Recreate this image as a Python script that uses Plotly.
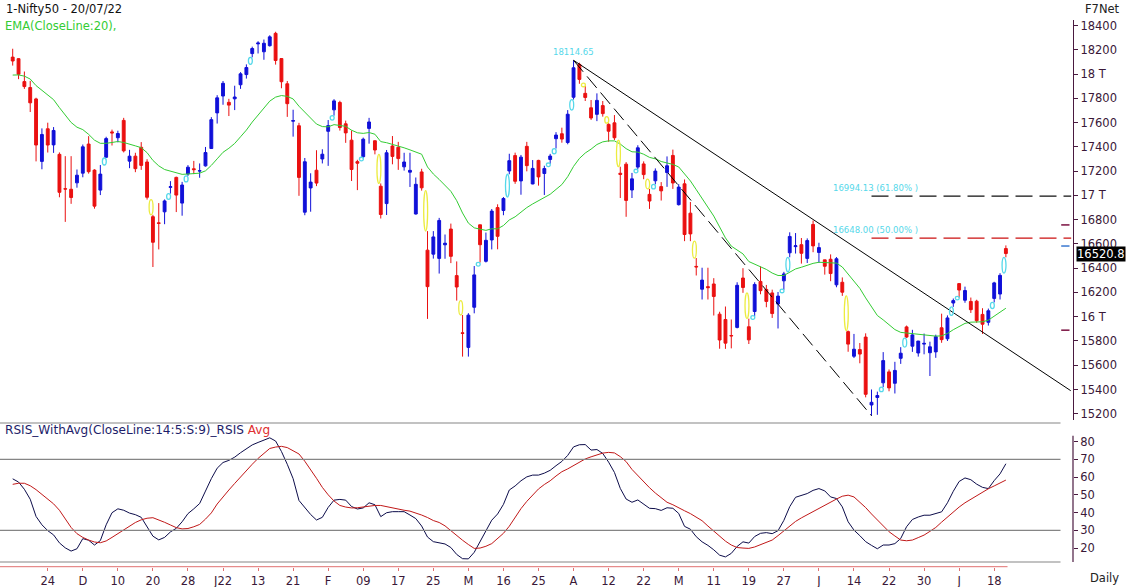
import plotly.graph_objects as go

# ---------------- data ----------------
tick_idx = [6, 12, 18, 24, 30, 36, 42, 48, 54, 60, 66, 72, 78, 84, 90, 96, 102, 108,
            114, 120, 126, 132, 138, 144, 150, 156, 162, 168]
tick_text = ["24", "D", "10", "20", "28", "J22", "13", "21", "F", "09", "17", "25", "M", "16",
             "25", "A", "12", "22", "M", "11", "19", "27", "J", "14", "22", "30", "J", "18"]

opens = [18141, 18128, 17939, 17890, 17796, 17281, 17550, 17417, 17339, 17055,
         17051, 17104, 17184, 17424, 17209, 17044, 17315, 17524, 17476, 17619,
         17283, 17324, 17397, 17276, 16825, 16774, 16865, 17067, 17149, 16937,
         17177, 17220, 17201, 17244, 17387, 17681, 17820, 17768, 17797, 17913,
         17997, 18170, 18250, 18185, 18235, 18337, 18129, 17921, 17613, 17575,
         16862, 17062, 17208, 17301, 17529, 17706, 17767, 17591, 17456, 17279,
         17320, 17553, 17451, 17076, 16933, 17408, 17397, 17236, 17192, 16847,
         17194, 16549, 16516, 16481, 16593, 16723, 16339, 15867, 15747, 16078,
         16758, 16457, 16633, 16900, 16876, 17202, 17329, 17120, 17405, 17095,
         17289, 17181, 17297, 17468, 17509, 17437, 17810, 18081, 17842, 17723,
         17669, 17741, 17586, 17599, 17183, 17258, 17045, 17234, 17260, 17009,
         17121, 17073, 17189, 17330, 16924, 17096, 16854, 16415, 16227, 16248,
         16270, 16021, 15977, 15845, 15912, 16319, 15917, 16043, 16291, 16225,
         16196, 16105, 16296, 16527, 16578, 16594, 16481, 16761, 16530, 16469,
         16474, 16263, 16284, 15877, 15674, 15729, 15832, 15272, 15334, 15455,
         15545, 15451, 15657, 15916, 15757, 15701, 15774, 15703, 15710, 15909,
         15818, 16113, 16273, 16136, 16126, 16128, 16019, 15954, 16151, 16187,
         16562]
highs = [18210, 18132, 18022, 17945, 17806, 17553, 17600, 17564, 17355, 17324,
         17324, 17214, 17420, 17489, 17216, 17251, 17484, 17543, 17534, 17640,
         17376, 17352, 17440, 17299, 16840, 16937, 16967, 17118, 17155, 17112,
         17250, 17285, 17264, 17400, 17646, 17827, 17944, 17797, 17905, 18017,
         18081, 18227, 18272, 18286, 18321, 18350, 18130, 17944, 17707, 17599,
         17309, 17183, 17373, 17381, 17622, 17794, 17781, 17617, 17536, 17294,
         17477, 17640, 17454, 17099, 17375, 17490, 17442, 17352, 17352, 17148,
         17220, 16706, 16706, 16815, 16678, 16768, 16456, 16014, 16029, 16418,
         16758, 16694, 16888, 16927, 16987, 17344, 17353, 17334, 17442, 17292,
         17294, 17245, 17343, 17522, 17559, 17704, 18114.65, 18095, 17902, 17787,
         17842, 17779, 17596, 17663, 17237, 17275, 17186, 17414, 17281, 17054,
         17223, 17110, 17322, 17378, 17093, 17132, 16946, 16484, 16404, 16404,
         16318, 16041, 16084, 15977, 16284, 16400, 15984, 16284, 16415, 16262,
         16223, 16204, 16370, 16696, 16690, 16649, 16646, 16793, 16610, 16469,
         16514, 16492, 16324, 15886, 15858, 15783, 15863, 15400, 15382, 15708,
         15565, 15628, 15749, 15927, 15892, 15801, 15861, 15794, 15852, 16025,
         16011, 16150, 16275, 16248, 16158, 16140, 16070, 16067, 16288, 16359,
         16588]
lows = [18071, 17959, 17879, 17688, 17281, 17216, 17354, 17351, 16985, 16782,
        16931, 17064, 17150, 17180, 16891, 17003, 17309, 17412, 17438, 17355,
        17225, 17192, 17211, 16966, 16410, 16555, 16763, 17015, 16863, 16833,
        17161, 17176, 17146, 17238, 17384, 17593, 17748, 17655, 17704, 17879,
        17964, 18139, 18171, 18119, 18228, 18079, 17884, 17648, 17485, 16997,
        16837, 16866, 17077, 17264, 17244, 17658, 17535, 17434, 17119, 17044,
        17306, 17427, 17339, 16810, 16839, 17257, 17211, 17205, 17070, 16843,
        17040, 15982, 16479, 16356, 16478, 16442, 16133, 15671, 15671, 16028,
        16447, 16447, 16555, 16556, 16837, 17175, 17096, 17006, 17199, 17092,
        17081, 17004, 17260, 17387, 17435, 17422, 17791, 17921, 17779, 17623,
        17613, 17650, 17443, 17457, 16979, 16824, 16979, 17216, 17134, 16889,
        17091, 16958, 17071, 17054, 16917, 16623, 16623, 16340, 16142, 16142,
        16010, 15736, 15735, 15739, 15904, 16197, 15775, 16003, 16185, 16078,
        15990, 15903, 16221, 16490, 16521, 16438, 16443, 16532, 16444, 16347,
        16293, 16243, 16172, 15711, 15659, 15616, 15335, 15183.4, 15191, 15419,
        15385, 15367, 15611, 15824, 15710, 15671, 15690, 15511, 15661, 15785,
        15800, 16081, 16157, 16115, 16031, 15950, 15858, 15927, 16118, 16142,
        16490]
closes = [18109, 17999, 17898, 17764, 17416, 17503, 17416, 17536, 17026, 17053,
          16983, 17167, 17401, 17196, 16912, 17176, 17469, 17516, 17511, 17368,
          17324, 17221, 17248, 16985, 16614, 16770, 16955, 17072, 17003, 17086,
          17233, 17213, 17204, 17354, 17625, 17805, 17925, 17745, 17812, 18003,
          18055, 18212, 18257, 18255, 18308, 18113, 17938, 17757, 17617, 17149,
          17278, 17110, 17102, 17340, 17576, 17780, 17560, 17516, 17214, 17266,
          17464, 17606, 17375, 16843, 17352, 17322, 17304, 17276, 17207, 17092,
          17063, 16248, 16658, 16794, 16606, 16498, 16245, 15863, 16013, 16345,
          16594, 16630, 16871, 16663, 16975, 17287, 17117, 17316, 17246, 17223,
          17153, 17222, 17325, 17498, 17465, 17670, 18053, 17957, 17808, 17639,
          17784, 17675, 17530, 17476, 17174, 16959, 17137, 17393, 17172, 16954,
          17201, 17038, 17245, 17103, 17069, 16678, 16683, 16411, 16302, 16240,
          16167, 15808, 15782, 15842, 16259, 16241, 15809, 16266, 16215, 16126,
          16026, 16170, 16353, 16662, 16585, 16523, 16628, 16584, 16570, 16416,
          16356, 16478, 16202, 15774, 15732, 15692, 15360, 15294, 15350, 15638,
          15413, 15557, 15699, 15832, 15850, 15799, 15780, 15752, 15835, 15811,
          15990, 16133, 16220, 16216, 16058, 15967, 15938, 16049, 16279, 16341,
          16521]
ema20 = [17993, 17994, 17984, 17960, 17906, 17866, 17823, 17790, 17724, 17663,
         17602, 17563, 17543, 17504, 17456, 17430, 17430, 17437, 17445, 17437,
         17425, 17409, 17394, 17353, 17289, 17244, 17214, 17200, 17185, 17174,
         17177, 17182, 17184, 17203, 17248, 17302, 17356, 17389, 17429, 17484,
         17539, 17605, 17665, 17720, 17778, 17811, 17824, 17817, 17796, 17736,
         17688, 17638, 17589, 17568, 17566, 17584, 17579, 17570, 17538, 17517,
         17512, 17519, 17505, 17444, 17435, 17422, 17408, 17393, 17376, 17360,
         17340, 17235, 17177, 17132, 17080, 17034, 16957, 16855, 16772, 16733,
         16722, 16712, 16725, 16725, 16752, 16798, 16824, 16866, 16900, 16930,
         16955, 16980, 17010, 17050, 17090, 17155, 17240, 17305, 17350, 17382,
         17420, 17442, 17450, 17450, 17424, 17386, 17360, 17358, 17340, 17314,
         17302, 17280, 17270, 17256, 17235, 17175, 17120, 17048, 16975, 16900,
         16830, 16740, 16650, 16582, 16550, 16518, 16455, 16435, 16414, 16390,
         16360, 16340, 16340, 16365, 16394, 16408, 16427, 16440, 16449, 16447,
         16441, 16442, 16410, 16352, 16295, 16234, 16155, 16078, 16010, 15974,
         15935, 15894, 15871, 15865, 15862, 15856, 15849, 15841, 15840, 15842,
         15862, 15893, 15920, 15945, 15955, 15956, 15958, 15972, 16003, 16034,
         16070]
rsi = [59.0, 57.2, 53.1, 47.5, 37.8, 33.1, 29.8, 27.4, 22.9, 20.1,
       18.3, 19.6, 25.3, 24.4, 21.7, 24.2, 33.1, 39.9, 42.1, 41.3,
       39.7, 38.8, 37.3, 31.7, 26.7, 24.6, 26.0, 29.1, 31.1, 34.8,
       39.4, 42.1, 45.1, 52.1, 59.1, 65.0, 68.2, 69.4, 71.2, 73.7,
       76.1, 78.1, 79.5, 80.8, 82.1, 80.3, 74.4, 67.2, 59.1, 46.8,
       42.7, 38.9, 35.8, 37.3, 42.9, 47.0, 47.4, 47.0, 43.4, 42.0,
       42.6, 45.5, 44.4, 37.7, 39.9, 40.5, 40.5, 40.5, 38.6, 36.6,
       32.4, 26.2, 23.6, 23.0, 22.3, 20.3, 16.4, 14.0, 13.9, 17.6,
       23.7, 29.2, 35.7, 39.2, 44.6, 52.7, 55.0, 57.9, 60.1, 61.1,
       61.1, 62.2, 63.8, 66.4, 68.8, 72.2, 77.0, 78.2, 78.3, 75.2,
       75.5, 73.3, 68.4, 62.6, 53.6, 47.6, 45.8, 47.1, 45.0, 42.4,
       42.2, 41.2, 42.7, 42.4, 39.5, 32.2, 30.6, 26.4, 23.5, 21.5,
       19.0, 16.0, 15.0, 17.0, 20.9, 23.5, 22.8, 26.5, 28.3, 28.7,
       28.1, 29.8, 35.6, 43.3, 48.6, 49.8, 50.7, 52.5, 53.5, 52.2,
       48.8, 47.9, 43.2, 34.8, 30.1, 27.0, 23.6, 21.5, 19.6, 21.7,
       21.7, 22.5, 25.4, 32.0, 36.1, 37.5, 38.5, 38.5, 39.5, 40.4,
       45.5, 52.0, 57.5, 59.5, 58.5, 56.0, 54.2, 53.5, 58.0, 61.8,
       67.5]
rsi_avg = [55.9, 56.5, 56.5, 55.1, 52.9, 50.2, 47.5, 44.9, 41.3, 36.8,
           31.6, 28.1, 26.0, 24.5, 23.4, 23.0, 24.0, 26.0, 28.1, 30.4,
           32.5, 34.4, 35.9, 36.8, 37.1, 36.0, 34.5, 33.0, 31.5, 30.8,
           31.0, 32.0, 33.3, 36.3, 39.8, 44.8, 49.1, 52.7, 56.4, 60.1,
           63.9, 67.2, 70.5, 73.4, 76.1, 76.9, 77.3, 76.6, 75.0, 73.0,
           68.9, 64.4, 59.3, 54.2, 50.0, 46.5, 44.0, 43.1, 42.6, 42.7,
           43.2, 43.7, 44.0, 44.0, 43.3, 42.5, 41.6, 41.3, 40.8, 39.8,
           38.6, 37.2, 35.5, 34.4, 32.5, 29.8, 27.0, 24.4, 22.0, 19.8,
           20.0, 21.0, 22.5, 25.2, 28.3, 32.3, 37.2, 42.2, 46.3, 49.9,
           53.3, 55.8, 57.9, 60.6, 63.0, 64.6, 66.4, 68.3, 70.2, 71.4,
           72.6, 73.5, 73.9, 73.6, 71.5, 68.7, 64.3, 60.8, 57.1, 54.0,
           51.0, 48.6, 45.8, 44.4, 42.9, 41.0, 39.4, 37.5, 35.4, 32.4,
           29.6, 27.0, 23.9, 21.7, 20.3, 20.0, 19.8, 20.6, 21.8, 23.1,
           24.5, 27.0, 29.7, 32.2, 35.0, 37.0, 38.8, 40.8, 42.5, 44.3,
           46.0, 47.6, 49.2, 49.8, 48.8, 46.0, 42.8, 39.2, 35.7, 32.5,
           29.2, 26.8, 24.5, 24.1, 24.5, 25.9, 27.3, 29.4, 31.6, 34.6,
           37.6, 40.2, 43.1, 45.5, 47.5, 49.7, 51.6, 53.4, 55.0, 56.6,
           58.3]

price_ticks = [15200, 15400, 15600, 15800, 16000, 16200, 16400, 16600, 16800,
               17000, 17200, 17400, 17600, 17800, 18000, 18200, 18400]
price_tick_text = ["15200", "15400", "15600", "15800", "16 T", "16200", "16400", "16600",
                   "16800", "17 T", "17200", "17400", "17600", "17800", "18 T", "18200", "18400"]
rsi_ticks = [20, 30, 40, 50, 60, 70, 80]
rsi_levels = [70, 30]

swing_high_idx, swing_high = 96, 18114.65
swing_low_idx, swing_low = 147, 15183.40
trend_solid_x = [96, 181.1]
trend_solid_y = [18114.65, 15390]
fib_levels = [16994.13, 16648.00]
fib_labels = ["16994.13 (61.80% )", "16648.00 (50.00% )"]
fib_colors = ["#111111", "#cc1111"]
pivot_marks = [16757, 16583, 15889]
pivot_colors = ["#7a1040", "#3a78d0", "#7a1040"]
last_close = 16520.8

# ---------------- geometry ----------------
W, H = 1126, 587
PLOT_R = 1073.5
X0_PX, STEP_PX = 12.7, 5.845
x_range = [-X0_PX / STEP_PX, (PLOT_R - X0_PX) / STEP_PX]
PRICE_REF, PRICE_REF_PY, PTS_PER_PX = 18400, 25.7, 8.247
price_top_px, price_bot_px = 20, 420
price_range = [PRICE_REF - (price_bot_px - PRICE_REF_PY) * PTS_PER_PX,
               PRICE_REF + (PRICE_REF_PY - price_top_px) * PTS_PER_PX]
R70_PY, PX_PER_UNIT = 459.3, 1.775
rsi_top_px, rsi_bot_px = 423, 566.7
rsi_range = [70 - (rsi_bot_px - R70_PY) / PX_PER_UNIT, 70 + (R70_PY - rsi_top_px) / PX_PER_UNIT]


def pxx(x):
    return x / PLOT_R


def pxy(y):
    return 1 - y / H


def idx_of(px):
    return (px - X0_PX) / STEP_PX


BLUE = "#1010d8"
RED = "#ea1010"
AXC = "#4a1a40"
FONT = "DejaVu Sans"
n = len(closes)
idx = list(range(n))

fig = go.Figure()
fig.add_trace(go.Candlestick(
    x=idx, open=opens, high=highs, low=lows, close=closes,
    increasing=dict(line=dict(color=BLUE, width=1), fillcolor=BLUE),
    decreasing=dict(line=dict(color=RED, width=1), fillcolor=RED),
    whiskerwidth=0, hoverinfo="skip", xaxis="x", yaxis="y"))
fig.add_trace(go.Scatter(x=idx, y=ema20, mode="lines", line=dict(color="#33cc33", width=1),
                         xaxis="x", yaxis="y", hoverinfo="skip"))
# trend lines
fig.add_trace(go.Scatter(x=trend_solid_x, y=trend_solid_y, mode="lines",
                         line=dict(color="#000000", width=1), xaxis="x", yaxis="y", hoverinfo="skip"))
fig.add_trace(go.Scatter(x=[swing_high_idx, swing_low_idx], y=[swing_high, swing_low], mode="lines",
                         line=dict(color="#000000", width=1, dash="15px,6px"),
                         xaxis="x", yaxis="y", hoverinfo="skip"))
for lvl, col in zip(fib_levels, fib_colors):
    fig.add_trace(go.Scatter(x=[swing_low_idx, idx_of(1071.7)], y=[lvl, lvl], mode="lines",
                             line=dict(color=col, width=1.2, dash="17px,7px"),
                             xaxis="x", yaxis="y", hoverinfo="skip"))
# RSI
fig.add_trace(go.Scatter(x=idx, y=rsi, mode="lines", line=dict(color="#0c0c4a", width=1),
                         xaxis="x2", yaxis="y2", hoverinfo="skip"))
fig.add_trace(go.Scatter(x=idx, y=rsi_avg, mode="lines", line=dict(color="#c01818", width=1),
                         xaxis="x2", yaxis="y2", hoverinfo="skip"))

shapes = []
# gap ellipses
for i in range(1, n):
    if lows[i] > highs[i - 1]:
        y0, y1, col = highs[i - 1], lows[i], "#55d8ea"
    elif highs[i] < lows[i - 1]:
        y0, y1, col = highs[i], lows[i - 1], "#ecec40"
    else:
        continue
    if y1 - y0 < 30:
        m = (y0 + y1) / 2
        y0, y1 = m - 15, m + 15
    shapes.append(dict(type="circle", xref="x", yref="y", x0=i - 0.65, x1=i + 0.02,
                       y0=y0, y1=y1, line=dict(color=col, width=1.3)))
# pivot marks at right
for lvl, col in zip(pivot_marks, pivot_colors):
    shapes.append(dict(type="line", xref="paper", yref="y", x0=pxx(1061.7), x1=pxx(1070),
                       y0=lvl, y1=lvl, line=dict(color=col, width=1.5)))
# RSI panel lines
GRAY = "#858585"
for yy in [rsi_top_px, 562]:
    shapes.append(dict(type="line", xref="paper", yref="paper", x0=0, x1=pxx(1061),
                       y0=pxy(yy), y1=pxy(yy), line=dict(color=GRAY, width=1.2)))
for lv in rsi_levels:
    shapes.append(dict(type="line", xref="paper", yref="y2", x0=0, x1=pxx(1061),
                       y0=lv, y1=lv, line=dict(color=GRAY, width=1.2)))
shapes.append(dict(type="line", xref="paper", yref="paper", x0=0, x1=pxx(1008),
                   y0=pxy(rsi_bot_px), y1=pxy(rsi_bot_px), line=dict(color="#e07070", width=1)))
shapes.append(dict(type="line", xref="paper", yref="paper", x0=1.0, x1=1.0,
                   y0=pxy(435.7), y1=pxy(562), line=dict(color=AXC, width=1.2)))

ann = [
    dict(x=pxx(4), y=pxy(9), text="1-Nifty50 - 20/07/22", font=dict(size=11.5, color="#111111")),
    dict(x=pxx(3), y=pxy(26), text="EMA(CloseLine:20),", font=dict(size=11.5, color="#33cc33")),
    dict(x=pxx(3), y=pxy(430),
         text="<span style='color:#1e1e6a'>RSIS_WithAvg(CloseLine:14:5:S:9)_RSIS</span> "
              "<span style='color:#e03030'>Avg</span>", font=dict(size=12.1)),
]
for a in ann:
    a.update(xref="paper", yref="paper", xanchor="left", yanchor="middle", showarrow=False)
    a["font"]["family"] = FONT
ann += [
    dict(x=pxx(1123), y=pxy(9), xref="paper", yref="paper", xanchor="right", yanchor="middle",
         text="F7Net", showarrow=False, font=dict(family=FONT, size=11.5, color="#222222")),
    dict(x=pxx(1122), y=pxy(578), xref="paper", yref="paper", xanchor="right", yanchor="middle",
         text="Daily", showarrow=False, font=dict(family=FONT, size=11.5, color="#222222")),
    dict(x=swing_high_idx, y=pxy(51.7), xref="x", yref="paper", xanchor="center", yanchor="middle",
         text=f"{swing_high:.2f}", showarrow=False, font=dict(family=FONT, size=8.5, color="#55d8ea")),
    dict(x=pxx(1077), y=last_close, xref="paper", yref="y", xanchor="left", yanchor="middle",
         text=f"{last_close:.1f}", showarrow=False, bgcolor="#000000", borderpad=0,
         font=dict(family=FONT, size=11.5, color="#ffffff")),
]
for lvl, lab in zip(fib_levels, fib_labels):
    ann.append(dict(x=idx_of(831.7), y=lvl, xref="x", yref="y", xanchor="left", yanchor="middle",
                    yshift=8, text=lab, showarrow=False,
                    font=dict(family=FONT, size=8.5, color="#55d8ea")))

tickfont = dict(family=FONT, size=11.5, color="#3a1838")
fig.update_layout(
    width=W, height=H, margin=dict(l=0, r=W - PLOT_R, t=0, b=0),
    paper_bgcolor="white", plot_bgcolor="white", showlegend=False,
    xaxis=dict(domain=[0, 1], range=x_range, visible=False, rangeslider=dict(visible=False),
               anchor="y", automargin=False),
    yaxis=dict(domain=[pxy(price_bot_px), pxy(price_top_px)], range=price_range, side="right",
               anchor="x", tickvals=price_ticks, ticktext=price_tick_text, ticks="outside",
               ticklen=4, tickcolor=AXC, showline=True, linecolor=AXC, linewidth=1.2,
               showgrid=False, zeroline=False, tickfont=tickfont, automargin=False),
    xaxis2=dict(domain=[0, 1], range=x_range, anchor="y2", tickvals=tick_idx, ticktext=tick_text,
                ticks="outside", ticklen=3, tickcolor="#e07070", showline=False, showgrid=False,
                zeroline=False, tickfont=tickfont, automargin=False),
    yaxis2=dict(domain=[pxy(rsi_bot_px), pxy(rsi_top_px)], range=rsi_range, side="right",
                anchor="x2", tickvals=rsi_ticks, ticks="outside", ticklen=4, tickcolor=AXC,
                showline=False, showgrid=False, zeroline=False, tickfont=tickfont, automargin=False),
    shapes=shapes, annotations=ann,
)
fig.write_html("out.html")
